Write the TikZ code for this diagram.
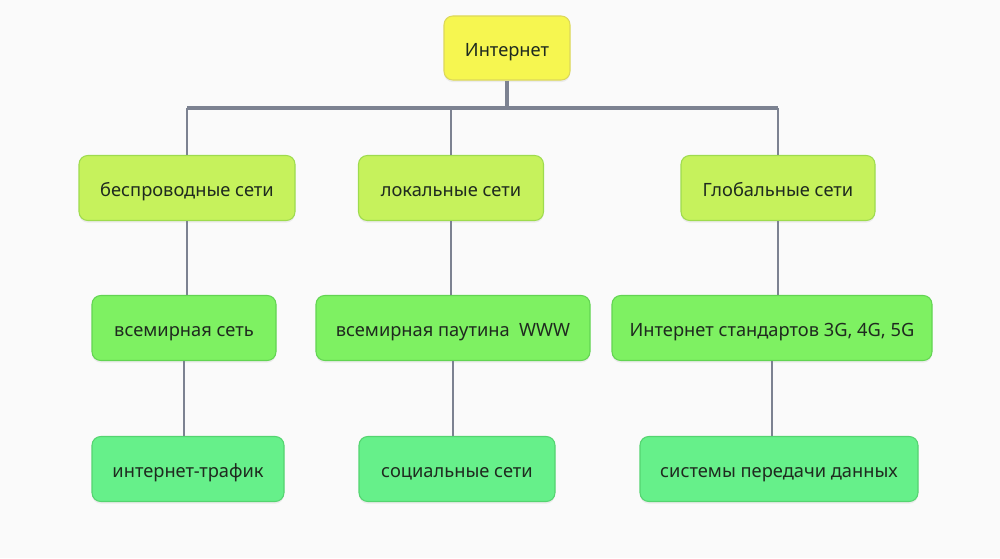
\documentclass[tikz,border=0pt]{standalone}
\usepackage{fontspec}
\setmainfont{Noto Sans}
\usetikzlibrary{positioning,shadows}
\definecolor{bgcol}{HTML}{FAFAFA}
\definecolor{linecol}{HTML}{7C8291}
\definecolor{rootfill}{HTML}{F6F650}
\definecolor{rootdraw}{HTML}{DCD85A}
\definecolor{onefill}{HTML}{C6F25C}
\definecolor{onedraw}{HTML}{9EDB4E}
\definecolor{twofill}{HTML}{7EF162}
\definecolor{twodraw}{HTML}{62D452}
\definecolor{threefill}{HTML}{66F08A}
\definecolor{threedraw}{HTML}{54D470}
\definecolor{txtcol}{HTML}{1F2A1F}

\begin{document}
\begin{tikzpicture}[
  card/.style={draw,rounded corners=5pt,minimum height=1.3cm,inner sep=2pt,
    font=\fontsize{10.4pt}{12pt}\selectfont,text=txtcol,line width=0.6pt,
    text height=1.7ex,text depth=0ex,
    drop shadow={shadow xshift=0pt,shadow yshift=-1.2pt,opacity=0.12}},
  root/.style={card,fill=rootfill,draw=rootdraw},
  lvlone/.style={card,fill=onefill,draw=onedraw},
  lvltwo/.style={card,fill=twofill,draw=twodraw},
  lvlthree/.style={card,fill=threefill,draw=threedraw},
  link/.style={draw=linecol,line width=1.6pt}]
  \fill[bgcol] (0,0) rectangle (20,11.16);
  \useasboundingbox (0,0) rectangle (20,11.16);
  % top
  \node[root,minimum width=2.52cm,minimum height=1.28cm] (inet) at (10.14,10.2) {Интернет};
  % first level
  \node[lvlone,minimum width=4.32cm] (wl) at (3.74,7.4) {беспроводные сети};
  \node[lvlone,minimum width=3.7cm] (lan) at (9.02,7.4) {локальные сети};
  \node[lvlone,minimum width=3.88cm] (wan) at (15.56,7.4) {Глобальные сети};
  % second level
  \node[lvltwo,minimum width=3.68cm] (web) at (3.68,4.6) {всемирная сеть};
  \node[lvltwo,minimum width=5.48cm] (www) at (9.06,4.6) {всемирная паутина\ \ WWW};
  \node[lvltwo,minimum width=6.4cm] (std) at (15.44,4.6) {Интернет стандартов 3G, 4G, 5G};
  % third level
  \node[lvlthree,minimum width=3.84cm] (traf) at (3.76,1.78) {интернет-трафик};
  \node[lvlthree,minimum width=3.92cm] (soc) at (9.14,1.78) {социальные сети};
  \node[lvlthree,minimum width=5.56cm] (data) at (15.58,1.78) {системы передачи данных};
  % bus
  \coordinate (bus) at (10.14,9.0);
  \draw[link,line width=2.4pt] (inet.south) -- (inet.south |- bus);
  \draw[link,line width=2pt] (wl.north |- bus) -- (wan.north |- bus);
  \foreach \n in {wl,lan,wan}
    \draw[link] (\n.north) -- (\n.north |- bus);
  \draw[link] (wl.south) -- (wl.south |- web.north);
  \draw[link] (lan.south) -- (lan.south |- www.north);
  \draw[link] (wan.south) -- (wan.south |- std.north);
  \draw[link] (web.south) -- (web.south |- traf.north);
  \draw[link] (www.south) -- (www.south |- soc.north);
  \draw[link] (std.south) -- (std.south |- data.north);
\end{tikzpicture}
\end{document}
